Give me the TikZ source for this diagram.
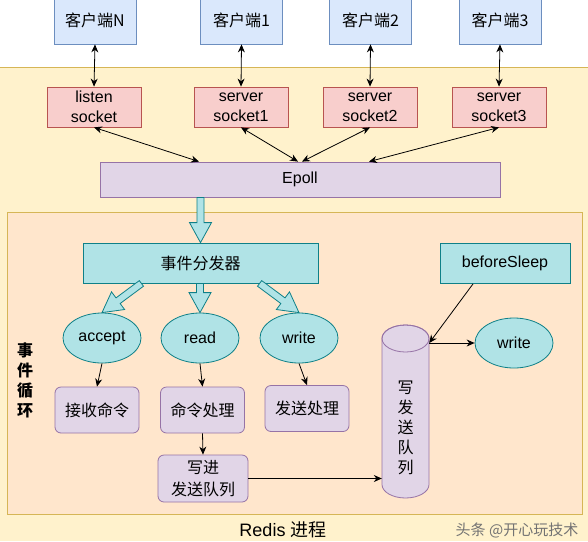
\documentclass[tikz,border=0pt]{standalone}
\usepackage{fontspec}
\setmainfont{Liberation Sans}
\newfontfamily\cjk{Noto Sans CJK SC}
\usetikzlibrary{shapes.geometric,calc,arrows.meta}

\definecolor{clientfill}{HTML}{DAE8FC}
\definecolor{clientline}{HTML}{6C8EBF}
\definecolor{sockfill}{HTML}{F8CECC}
\definecolor{sockline}{HTML}{B85450}
\definecolor{purplefill}{HTML}{E1D5E7}
\definecolor{purpleline}{HTML}{9673A6}
\definecolor{cyanfill}{HTML}{B0E3E6}
\definecolor{cyanline}{HTML}{0E8088}
\definecolor{procfill}{HTML}{FFF2CC}
\definecolor{procline}{HTML}{D6B656}
\definecolor{loopfill}{HTML}{FFE6CC}

\tikzset{
  box/.style={draw, inner sep=0pt, line width=0.8pt, align=center,
    font=\fontsize{16}{20}\selectfont},
  client/.style={box, draw=clientline, fill=clientfill,
    minimum width=82pt, minimum height=48pt, font=\cjk\fontsize{16}{20}\selectfont},
  sock/.style={box, draw=sockline, fill=sockfill, minimum width=94pt, minimum height=40pt},
  poll/.style={box, draw=purpleline, fill=purplefill, minimum width=400pt, minimum height=35pt},
  handler/.style={box, draw=cyanline, fill=cyanfill, minimum height=40pt},
  event/.style={box, ellipse, draw=cyanline, fill=cyanfill, minimum width=78pt, minimum height=50pt},
  job/.style={box, rounded corners=6pt, draw=purpleline, fill=purplefill,
    minimum width=84pt, minimum height=46pt, font=\cjk\fontsize{16}{22}\selectfont},
  arr/.style={-{Stealth[length=8pt,width=7pt]}, line width=0.8pt},
  biarr/.style={{Stealth[length=8pt,width=7pt]}-{Stealth[length=8pt,width=7pt]}, line width=0.8pt},
  fat/.style={draw=cyanline, fill=cyanfill, line width=0.8pt, line join=miter}
}

% fat cyan arrow from #1 to #2
\newcommand\fatarrow[2]{%
  \coordinate (fa-h) at ($(#2)!20pt!(#1)$);
  \draw[fat] ($(#1)!3.5pt!90:(#2)$) -- ($(fa-h)!3.5pt!-90:(#1)$)
    -- ($(fa-h)!11pt!-90:(#1)$) -- (#2) -- ($(fa-h)!11pt!90:(#1)$)
    -- ($(fa-h)!3.5pt!90:(#1)$) -- ($(#1)!3.5pt!-90:(#2)$) -- cycle;}

\begin{document}
\begin{tikzpicture}[x=1pt, y=-1pt]
  \clip (0,0) rectangle (588,541);
  % Redis process and event loop
  \fill[procfill] (0,67) rectangle (588,541);
  \draw[procline, line width=0.8pt] (0,67) -- (588,67);
  \draw[procline, fill=loopfill, line width=0.8pt] (7,212) rectangle (582,514);

  % clients
  \node[client] (cN) at (95,20) {客户端N};
  \node[client] (c1) at (241.5,20) {客户端1};
  \node[client] (c2) at (370.5,20) {客户端2};
  \node[client] (c3) at (500,20) {客户端3};

  % sockets
  \node[sock] (ls) at (94,107) {listen\\socket};
  \node[sock] (s1) at (241,107) {server\\socket1};
  \node[sock] (s2) at (370,107) {server\\socket2};
  \node[sock] (s3) at (499,107) {server\\socket3};

  \node[poll] (epoll) at (300,179.5) {Epoll};

  \node[handler, minimum width=235pt, font=\cjk\fontsize{16}{20}\selectfont]
    (disp) at (200.5,263) {事件分发器};
  \node[handler, minimum width=130pt] (bs) at (505,263.5) {beforeSleep};

  \node[event] (accept) at (102,338) {accept};
  \node[event] (read) at (200,338) {read};
  \node[event] (write) at (299,338) {write};
  \node[event] (write2) at (514,343) {write};

  \node[job] (recv) at (97,410) {接收命令};
  \node[job] (cmd) at (202.5,410) {命令处理};
  \node[job] (sendp) at (307,408.5) {发送处理};
  \node[job, minimum width=90pt, minimum height=47pt] (wq) at (203,478.5) {写进\\发送队列};

  % send queue cylinder
  \draw[purpleline, fill=purplefill, line width=0.8pt]
    (382,338.5) -- (382,484.5) arc (180:360:23.5pt and 13.5pt)
    -- (429,338.5) arc (0:180:23.5pt and 13.5pt) -- cycle;
  \draw[purpleline, line width=0.8pt] (405.5,338.5) ellipse (23.5pt and 13.5pt);
  \node[inner sep=0pt, minimum width=47pt, minimum height=173pt, align=center,
    font=\cjk\fontsize{16}{20}\selectfont] (queue) at (405.5,427.5) {写\\发\\送\\队\\列};

  \node[font=\cjk\bfseries\fontsize{16}{20}\selectfont, align=center]
    (looplbl) at (25,380) {事\\件\\循\\环};
  \node[font=\fontsize{18}{20}\selectfont] (proclbl) at (283,530) {Redis {\cjk 进程}};
  \node[font=\cjk\fontsize{15}{18}\selectfont, text=black!55] (mark) at (517,530) {头条 @开心玩技术};

  % client <-> socket
  \draw[biarr] (cN.south) -- (ls.north);
  \draw[biarr] (c1.south) -- (s1.north);
  \draw[biarr] (c2.south) -- (s2.north);
  \draw[biarr] (c3.south) -- (s3.north);

  % socket <-> epoll
  \draw[biarr] (ls.south) -- ([xshift=-101pt]epoll.north);
  \draw[biarr] (s1.south) -- ([xshift=-2pt]epoll.north);
  \draw[biarr] (s2.south) -- ([xshift=2pt]epoll.north);
  \draw[biarr] (s3.south) -- ([xshift=69pt]epoll.north);

  % dispatching
  \coordinate (epdown) at (epoll.south -| disp.north);
  \fatarrow{epdown}{disp.north}
  \coordinate (dl) at (disp.south -| accept.east);
  \fatarrow{dl}{accept.north}
  \coordinate (dm) at (disp.south -| read.north);
  \fatarrow{dm}{read.north}
  \coordinate (dr) at (disp.south -| write.west);
  \fatarrow{dr}{write.north}

  \draw[arr] (accept.south) -- (recv.north);
  \draw[arr] (read.south) -- (cmd.north);
  \draw[arr] (write.south) -- (sendp.north);
  \draw[arr] (cmd.south) -- (wq.north);
  \draw[arr] (wq.east) -- (wq.east -| queue.west);

  \coordinate (qtop) at (queue.east |- write2.west);
  \draw[arr] ([xshift=-32pt]bs.south) -- (qtop);
  \draw[arr] (qtop) -- (write2.west);
\end{tikzpicture}
\end{document}
